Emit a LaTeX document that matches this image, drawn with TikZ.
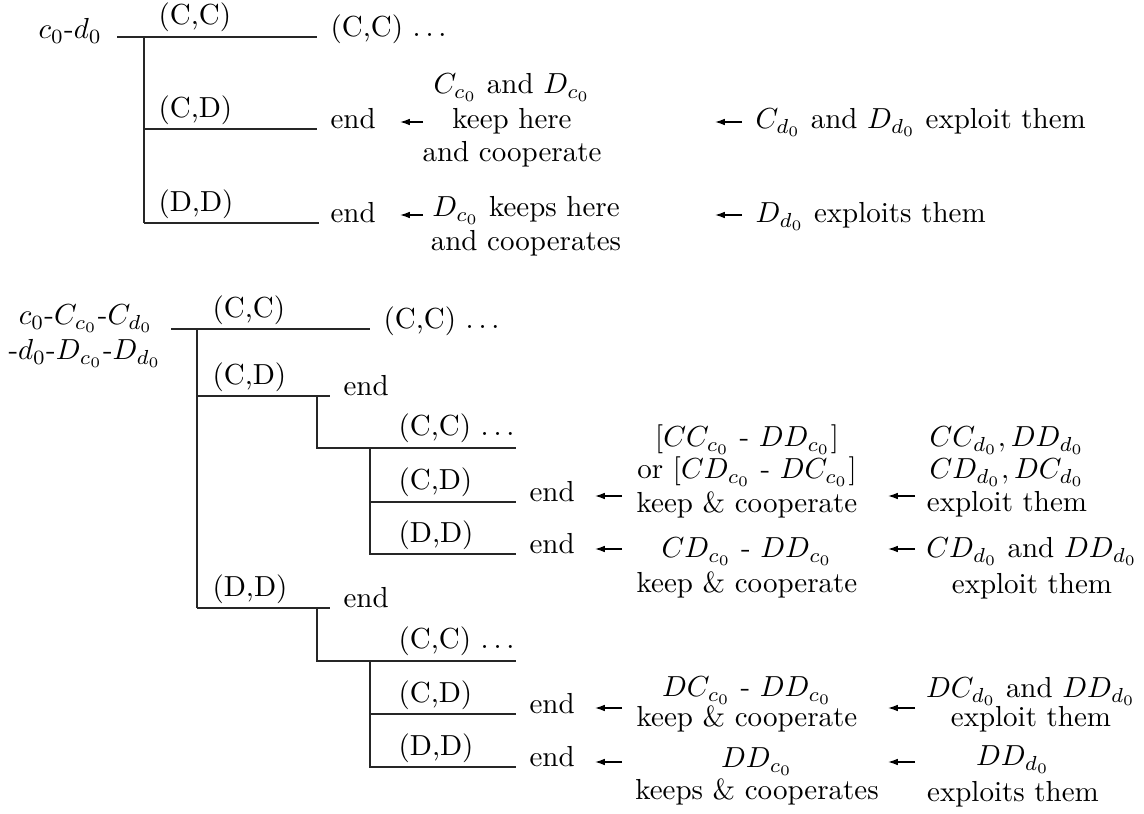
\documentclass[tikz,border=0pt]{standalone}
\usetikzlibrary{arrows.meta}
\tikzset{
  branch/.style={line width=0.45pt, draw=black!85},
  ptr/.style={line width=0.45pt, -{Latex[length=3.4pt,width=2.3pt]}},
  lbl/.style={inner sep=0pt, anchor=base west},
  ctr/.style={inner sep=0pt, anchor=base}
}
\begin{document}
\begin{tikzpicture}[x=0.345pt, y=-0.345pt]
\useasboundingbox (0,0) rectangle (1144,814);

% ---------- first game: c_0 - d_0 ----------
\node[lbl] (root1) at (38,39) {$c_0$-$d_0$};
\coordinate (t0)  at (117,37);
\coordinate (t0j) at (144,37);
\coordinate (t1e) at (317,37);
\coordinate (t2j) at (144,129);
\coordinate (t2e) at (317,129);
\coordinate (t3j) at (144,223);
\coordinate (t3e) at (319,223);
\draw[branch] (t0) -- (t1e);
\draw[branch] (t0j) -- (t3j);
\draw[branch] (t2j) -- (t2e);
\draw[branch] (t3j) -- (t3e);

\node[lbl] (tcc) at (158,25)  {(C,C)};
\node[lbl] (tcd) at (158,118) {(C,D)};
\node[lbl] (tdd) at (158,212) {(D,D)};
\node[lbl] (tnx) at (330,37)  {(C,C) $\ldots$};
\node[lbl] (tend1) at (330,129) {end};
\node[lbl] (tend2) at (330,223) {end};

\coordinate (ta1) at (423,122); \coordinate (tb1) at (400,122);
\coordinate (ta2) at (423,215); \coordinate (tb2) at (400,215);
\coordinate (tc1) at (742,122); \coordinate (td1) at (715,122);
\coordinate (tc2) at (742,215); \coordinate (td2) at (715,215);
\draw[ptr] (ta1) -- (tb1);
\draw[ptr] (ta2) -- (tb2);
\draw[ptr] (tc1) -- (td1);
\draw[ptr] (tc2) -- (td2);

\node[ctr] (k1a) at (512,94)  {$C_{c_0}$ and $D_{c_0}$};
\node[ctr] (k1b) at (512,129) {keep here};
\node[ctr] (k1c) at (512,162) {and cooperate};
\node[ctr] (k2a) at (526,217) {$D_{c_0}$ keeps here};
\node[ctr] (k2b) at (526,251) {and cooperates};

\node[lbl] (x1) at (755,129) {$C_{d_0}$ and $D_{d_0}$ exploit them};
\node[lbl] (x2) at (755,223) {$D_{d_0}$ exploits them};

% ---------- second game ----------
\node[ctr] (root2a) at (86,325) {$c_0$-$C_{c_0}$-$C_{d_0}$};
\node[ctr] (root2b) at (85,360) {-$d_0$-$D_{c_0}$-$D_{d_0}$};

\coordinate (b0)  at (171,329);
\coordinate (b0j) at (197,329);
\coordinate (b1e) at (370,329);
\coordinate (b2j) at (197,396);
\coordinate (b2e) at (330,396);
\coordinate (b3j) at (197,608);
\coordinate (b3e) at (330,608);
\draw[branch] (b0) -- (b1e);
\draw[branch] (b0j) -- (b3j);
\draw[branch] (b2j) -- (b2e);
\draw[branch] (b3j) -- (b3e);

% subtree after (C,D)
\coordinate (s1a) at (317,396);
\coordinate (s1b) at (317,448);
\coordinate (s1c) at (516,448);
\coordinate (s1d) at (370,448);
\coordinate (s1e) at (370,554);
\coordinate (s1f) at (370,502);
\coordinate (s1g) at (516,502);
\coordinate (s1h) at (516,554);
\draw[branch] (s1a) -- (s1b) -- (s1c);
\draw[branch] (s1d) -- (s1e) -- (s1h);
\draw[branch] (s1f) -- (s1g);

% subtree after (D,D)
\coordinate (s2a) at (317,608);
\coordinate (s2b) at (317,661);
\coordinate (s2c) at (516,661);
\coordinate (s2d) at (370,661);
\coordinate (s2e) at (370,767);
\coordinate (s2f) at (370,714);
\coordinate (s2g) at (516,714);
\coordinate (s2h) at (516,767);
\draw[branch] (s2a) -- (s2b) -- (s2c);
\draw[branch] (s2d) -- (s2e) -- (s2h);
\draw[branch] (s2f) -- (s2g);

\node[lbl] (bcc) at (212,318) {(C,C)};
\node[lbl] (bnx) at (383,329) {(C,C) $\ldots$};
\node[lbl] (bcd) at (212,385) {(C,D)};
\node[lbl] (bend1) at (343,396) {end};
\node[lbl] (bdd) at (212,597) {(D,D)};
\node[lbl] (bend2) at (343,608) {end};

\node[lbl] (u1) at (398,436) {(C,C) $\ldots$};
\node[lbl] (u2) at (398,490) {(C,D)};
\node[lbl] (u3) at (398,543) {(D,D)};
\node[lbl] (ue2) at (529,502) {end};
\node[lbl] (ue3) at (529,554) {end};

\node[lbl] (v1) at (398,649) {(C,C) $\ldots$};
\node[lbl] (v2) at (398,703) {(C,D)};
\node[lbl] (v3) at (398,756) {(D,D)};
\node[lbl] (ve2) at (529,714) {end};
\node[lbl] (ve3) at (529,767) {end};

% arrows of the second game
\foreach \yy/\nm in {496/p1, 549/p2, 708/p3, 762/p4}{
  \coordinate (\nm t) at (622,\yy); \coordinate (\nm h) at (595,\yy);
  \draw[ptr] (\nm t) -- (\nm h);
  \coordinate (\nm T) at (915,\yy); \coordinate (\nm H) at (888,\yy);
  \draw[ptr] (\nm T) -- (\nm H);
}

% who keeps
\node[ctr] (ka1) at (747,447) {$[CC_{c_0}$ - $DD_{c_0}]$};
\node[ctr] (ka2) at (747,479) {or $[CD_{c_0}$ - $DC_{c_0}]$};
\node[ctr] (ka3) at (747,513) {keep \& cooperate};
\node[ctr] (kb1) at (747,558) {$CD_{c_0}$ - $DD_{c_0}$};
\node[ctr] (kb2) at (747,593) {keep \& cooperate};
\node[ctr] (kc1) at (747,697) {$DC_{c_0}$ - $DD_{c_0}$};
\node[ctr] (kc2) at (747,727) {keep \& cooperate};
\node[ctr] (kd1) at (757,768) {$DD_{c_0}$};
\node[ctr] (kd2) at (757,800) {keeps \& cooperates};

% who exploits
\node[ctr] (ea1) at (1007,447) {$CC_{d_0}, DD_{d_0}$};
\node[ctr] (ea2) at (1007,479) {$CD_{d_0}, DC_{d_0}$};
\node[ctr] (ea3) at (1007,512) {exploit them};
\node[ctr] (eb1) at (1032,558) {$CD_{d_0}$ and $DD_{d_0}$};
\node[ctr] (eb2) at (1032,594) {exploit them};
\node[ctr] (ec1) at (1031,698) {$DC_{d_0}$ and $DD_{d_0}$};
\node[ctr] (ec2) at (1031,727) {exploit them};
\node[ctr] (ed1) at (1013,766) {$DD_{d_0}$};
\node[ctr] (ed2) at (1013,802) {exploits them};
\end{tikzpicture}
\end{document}
